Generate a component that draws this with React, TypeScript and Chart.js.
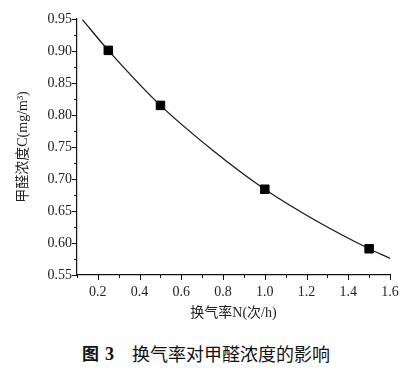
import React, { useEffect, useRef } from "react";
import { Chart, registerables } from "chart.js";

Chart.register(...registerables);

// Measured points (air change rate N vs formaldehyde concentration C)
const measuredN = [0.25, 0.5, 1.0, 1.5];
const measuredC = [0.901, 0.815, 0.684, 0.591];

// Fitted curve
const curveN = [0.126, 0.25, 0.5, 0.75, 1.0, 1.25, 1.5, 1.6];
const curveC = [0.949, 0.901, 0.815, 0.745, 0.684, 0.634, 0.591, 0.576];

// Axis ticks
const xMajorTicks = [0.2, 0.4, 0.6, 0.8, 1.0, 1.2, 1.4, 1.6];
const xMinorTicks = [0.1, 0.3, 0.5, 0.7, 0.9, 1.1, 1.3, 1.5];
const yMajorTicks = [0.55, 0.6, 0.65, 0.7, 0.75, 0.8, 0.85, 0.9, 0.95];
const yMinorTicks = [0.575, 0.625, 0.675, 0.725, 0.775, 0.825, 0.875, 0.925];

const xTitle = "换气率N(次/h)";
const yTitle = "甲醛浓度C(mg/m³)";
const captionFig = "图";
const captionNum = "3";
const captionText = "换气率对甲醛浓度的影响";

const SERIF = "'Liberation Serif', 'Times New Roman', 'Noto Sans CJK SC', serif";

const tickMarksPlugin = {
  id: "tickMarks",
  afterDraw(chart: any) {
    const ctx = chart.ctx;
    const xs = chart.scales.x;
    const ys = chart.scales.y;
    const area = chart.chartArea;
    ctx.save();
    ctx.strokeStyle = "#111";
    ctx.lineWidth = 1;
    const drawX = (vals: number[], len: number) => {
      vals.forEach((v) => {
        const px = Math.round(xs.getPixelForValue(v)) + 0.5;
        ctx.beginPath();
        ctx.moveTo(px, area.bottom);
        ctx.lineTo(px, area.bottom + len);
        ctx.stroke();
      });
    };
    const drawY = (vals: number[], len: number) => {
      vals.forEach((v) => {
        const py = Math.round(ys.getPixelForValue(v)) + 0.5;
        ctx.beginPath();
        ctx.moveTo(area.left, py);
        ctx.lineTo(area.left - len, py);
        ctx.stroke();
      });
    };
    drawX(xMajorTicks, 5);
    drawX(xMinorTicks, 3);
    drawY(yMajorTicks, 5);
    drawY(yMinorTicks, 3);
    ctx.restore();
  },
};

export default function App() {
  const canvasRef = useRef<HTMLCanvasElement | null>(null);

  useEffect(() => {
    if (!canvasRef.current) return;
    const chart = new Chart(canvasRef.current, {
      type: "scatter",
      data: {
        datasets: [
          {
            label: "fit",
            data: curveN.map((n, i) => ({ x: n, y: curveC[i] })),
            showLine: true,
            borderColor: "#1a1a1a",
            borderWidth: 1.3,
            pointRadius: 0,
            cubicInterpolationMode: "monotone",
            fill: false,
            order: 2,
          },
          {
            label: "measured",
            data: measuredN.map((n, i) => ({ x: n, y: measuredC[i] })),
            showLine: false,
            pointStyle: "rect",
            pointRadius: 6,
            backgroundColor: "#000",
            borderColor: "#000",
            borderWidth: 1,
            order: 1,
          },
        ],
      },
      options: {
        responsive: false,
        animation: false,
        events: [],
        layout: { padding: { left: 0, right: 27, top: 19, bottom: 0 } },
        plugins: {
          legend: { display: false },
          tooltip: { enabled: false },
          title: { display: false },
        },
        scales: {
          x: {
            type: "linear",
            min: 0.1,
            max: 1.6,
            afterBuildTicks: (scale: any) => {
              scale.ticks = xMajorTicks.map((v) => ({ value: v }));
            },
            afterFit: (scale: any) => {
              scale.height = 55;
            },
            grid: { display: false, drawTicks: false },
            border: { display: true, color: "#111", width: 1.2 },
            ticks: {
              padding: 9,
              color: "#222",
              font: { family: SERIF, size: 14 },
              callback: (v: any) => Number(v).toFixed(1),
              maxRotation: 0,
              autoSkip: false,
            },
            title: {
              display: true,
              text: xTitle,
              color: "#222",
              font: { family: SERIF, size: 14 },
              padding: { top: 0, bottom: 8 },
            },
          },
          y: {
            type: "linear",
            min: 0.55,
            max: 0.95,
            afterBuildTicks: (scale: any) => {
              scale.ticks = yMajorTicks.map((v) => ({ value: v }));
            },
            afterFit: (scale: any) => {
              scale.width = 77;
            },
            grid: { display: false, drawTicks: false },
            border: { display: true, color: "#111", width: 1.2 },
            ticks: {
              padding: 5,
              color: "#222",
              font: { family: SERIF, size: 14 },
              callback: (v: any) => Number(v).toFixed(2),
              autoSkip: false,
            },
            title: {
              display: true,
              text: yTitle,
              color: "#222",
              font: { family: SERIF, size: 14 },
              padding: { top: 15, bottom: 0 },
            },
          },
        },
      },
      plugins: [tickMarksPlugin],
    } as any);
    return () => chart.destroy();
  }, []);

  return (
    <div
      style={{
        position: "absolute",
        left: 0,
        top: 0,
        width: 417,
        height: 374,
        background: "#fff",
      }}
    >
      <canvas
        ref={canvasRef}
        width={417}
        height={330}
        style={{ position: "absolute", left: 0, top: 0, width: 417, height: 330 }}
      />
      <div
        style={{
          position: "absolute",
          left: 82,
          top: 343,
          fontFamily: "'Noto Sans CJK SC', sans-serif",
          fontSize: 17,
          lineHeight: "20px",
          fontWeight: "bold",
          color: "#111",
          whiteSpace: "pre",
        }}
      >
        {captionFig}
        <span style={{ fontFamily: "'Liberation Serif', serif", fontSize: 18, marginLeft: 6 }}>
          {captionNum}
        </span>
      </div>
      <div
        style={{
          position: "absolute",
          left: 132,
          top: 343,
          fontFamily: "'Noto Sans CJK SC', sans-serif",
          fontSize: 18,
          lineHeight: "20px",
          letterSpacing: "0px",
          fontWeight: "normal",
          color: "#111",
          whiteSpace: "pre",
        }}
      >
        {captionText}
      </div>
    </div>
  );
}
